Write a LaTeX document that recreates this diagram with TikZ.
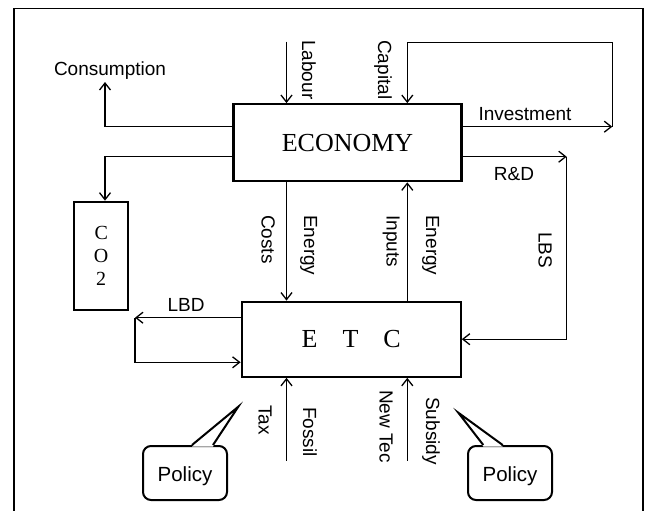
\documentclass[tikz,border=0pt]{standalone}
\usepackage{fontspec}
\setmainfont{Liberation Serif}
\setsansfont{Liberation Sans}
\usetikzlibrary{arrows.meta}

\tikzset{
  box/.style={draw, line width=2.2pt, inner sep=0pt, font=\fontsize{26}{28}\selectfont},
  flow/.style={->, line width=1.3pt},
  lbl/.style={inner sep=0pt, font=\sffamily\fontsize{19}{21}\selectfont},
  lblleft/.style={lbl, rotate=-90, anchor=north west},
  lblright/.style={lbl, rotate=-90, anchor=base west},
  policybox/.style={draw, line width=2pt, rounded corners=8pt, minimum width=84pt,
    minimum height=54pt, text height=16pt, text depth=0pt, inner sep=0pt,
    font=\sffamily\fontsize{20.5}{22}\selectfont},
}

\begin{document}
\begin{tikzpicture}[x=1pt, y=-1pt, >={Straight Barb[length=7pt,width=11pt]}, line join=miter]
  \useasboundingbox (0,0) rectangle (645,511);
  % frame
  \draw[line width=1.3pt] (14,520) -- (14,8.5) -- (643,8.5) -- (643,520);

  % boxes
  \node[box, minimum width=228pt, minimum height=77pt] (economy) at (347.5,142.7) {ECONOMY};
  \node[box, minimum width=219pt, minimum height=75pt] (etc) at (351.2,339.2) {E\hspace{25pt}T\hspace{25pt}C};
  \node[box, minimum width=54pt, minimum height=108pt, align=center,
        font=\fontsize{20}{23}\selectfont] (co2) at (101.2,255.8) {C\\O\\2};

  % free ends
  \coordinate (labourTop) at (286.5,41.7);
  \coordinate (capTop) at (407.3,42.3);
  \coordinate (invEnd) at (612.3,126.7);
  \coordinate (rdEnd) at (566.7,156.7);
  \coordinate (consTop) at (105,82);
  \coordinate (lbdEnd) at (135,317.7);
  \coordinate (lbdLow) at (135,362.3);
  \coordinate (fossilBot) at (286.5,460.7);
  \coordinate (newtecBot) at (407.3,460.7);

  % economy in and out
  \draw[flow] (labourTop) -- (labourTop |- economy.north);
  \draw[flow] ([yshift=16pt]economy.east) -- (invEnd);
  \draw[flow] (invEnd) -- (invEnd |- capTop) -- (capTop) -- (capTop |- economy.north);
  \draw[flow] ([yshift=16pt]economy.west) -| (consTop);
  \draw[flow] ([yshift=-14pt]economy.west) -| (consTop |- co2.north);
  \draw[flow] ([yshift=-14pt]economy.east) -- (rdEnd);
  \draw[flow] (rdEnd) -- (rdEnd |- etc.east) -- (etc.east);

  % between economy and etc
  \draw[flow] (labourTop |- economy.south) -- (labourTop |- etc.north);
  \draw[flow] (capTop |- etc.north) -- (capTop |- economy.south);

  % learning by doing
  \draw[flow] ([yshift=21.5pt]etc.west) -- (lbdEnd);
  \draw[flow] (lbdEnd) -- (lbdLow) -- (lbdLow -| etc.west);

  % policy inputs
  \draw[flow] (fossilBot) -- (fossilBot |- etc.south);
  \draw[flow] (newtecBot) -- (newtecBot |- etc.south);

  % labels
  \node[lblright] (labour) at (302,40) {Labour};
  \node[lblleft] (capital) at (392,40) {Capital};
  \node[lbl, anchor=base] (investment) at (525,120) {Investment};
  \node[lbl, anchor=base] (consumption) at (110,75) {Consumption};
  \node[lbl, anchor=base] (rd) at (514,180) {R\&D};
  \node[lblleft] (costs) at (275,215) {Costs};
  \node[lblright] (energyDown) at (304,215) {Energy};
  \node[lblleft] (inputs) at (400,215) {Inputs};
  \node[lblright] (energyUp) at (426,215) {Energy};
  \node[lblleft] (lbs) at (552,232) {LBS};
  \node[lbl, anchor=base] (lbd) at (186,311) {LBD};
  \node[lblleft] (tax) at (272,405) {Tax};
  \node[lblright] (fossil) at (303,407) {Fossil};
  \node[lblleft] (newtec) at (393,390) {New Tec};
  \node[lblright] (subsidy) at (426,397) {Subsidy};

  % policy callouts
  \node[policybox] (policyL) at (185,473) {Policy};
  \node[policybox] (policyR) at (510,473) {Policy};
  \coordinate (tipL) at (238.3,406.7);
  \coordinate (tipR) at (458.3,412.7);
  \fill[white] ([xshift=7pt,yshift=-1.5pt]policyL.north) -- (tipL) -- ([xshift=28pt,yshift=-1.5pt]policyL.north) -- cycle;
  \draw[line width=2pt] ([xshift=7pt]policyL.north) -- (tipL) -- ([xshift=28pt]policyL.north);
  \fill[white] ([xshift=-26.7pt,yshift=-1.5pt]policyR.north) -- (tipR) -- ([xshift=-7.3pt,yshift=-1.5pt]policyR.north) -- cycle;
  \draw[line width=2pt] ([xshift=-26.7pt]policyR.north) -- (tipR) -- ([xshift=-7.3pt]policyR.north);
\end{tikzpicture}
\end{document}
